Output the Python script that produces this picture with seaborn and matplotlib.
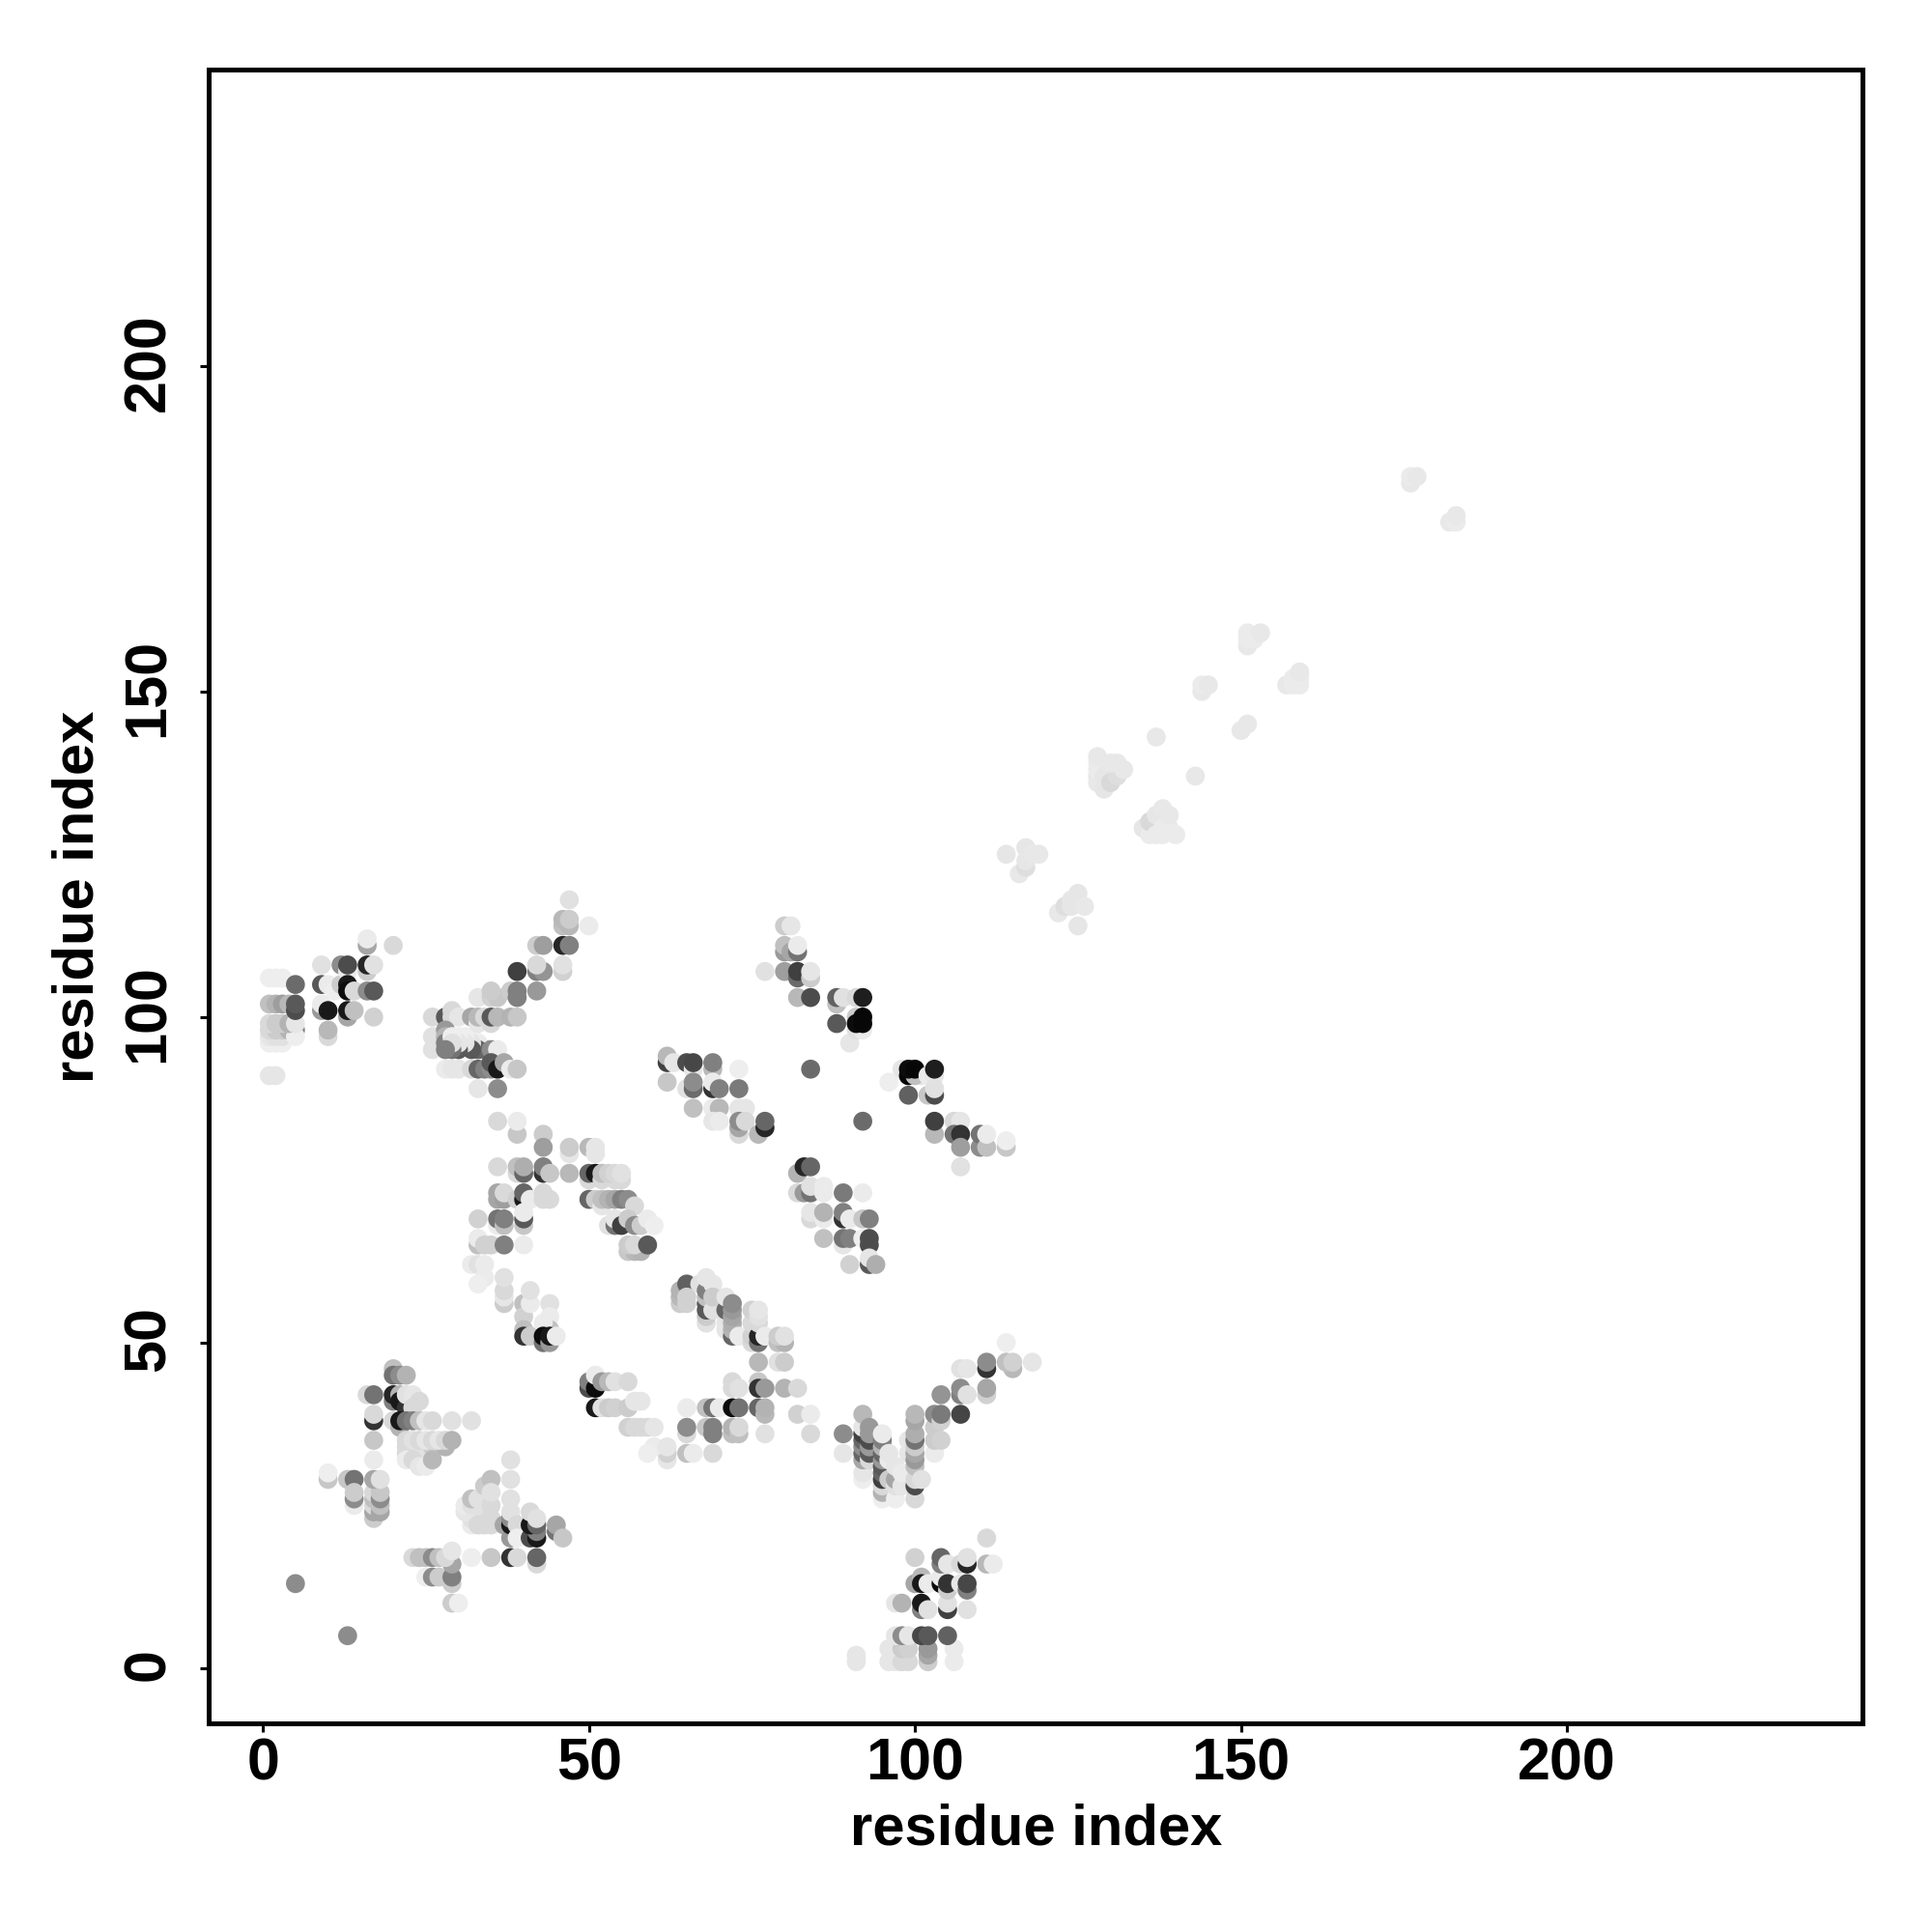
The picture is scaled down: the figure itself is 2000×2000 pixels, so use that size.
import pandas as pd
import seaborn as sns
import matplotlib
matplotlib.use('Agg')
import matplotlib.pyplot as plt
from matplotlib.transforms import ScaledTranslation

# every contact is (residue i, residue j, grey level), later ones sit on top
axis_label = 'residue index'
tick_values = [0, 50, 100, 150, 200]

isolated = [(5, 13, .55), (13, 5, .55), (84, 92, .42), (92, 84, .42)]

low_left = [
    (29, 10, .8), (30, 10, .93), (29, 13, .8), (25, 14, .93), (26, 14, .55), (27, 14, .8), (29, 14, .5),
    (23, 17, .85), (24, 17, .75), (25, 17, .75), (26, 17, .55), (27, 17, .75), (29, 16, .65), (28, 17, .85),
    (29, 18, .9), (32, 17, .93), (35, 17, .78), (42, 16, .85), (38, 17, .2), (39, 17, .85), (42, 17, .4),
    (10, 29, .78), (10, 30, .93), (13, 29, .78), (14, 29, .45), (14, 25, .92), (14, 26, .55), (14, 27, .8),
    (17, 23, .8), (17, 24, .65), (17, 25, .85), (17, 26, .75), (17, 27, .85), (18, 24, .65), (18, 25, .75),
    (18, 26, .55), (18, 27, .78), (17, 29, .65), (18, 29, .88), (17, 32, .92), (17, 35, .78),
]

low_mid = [
    (32, 22, .92), (33, 23, .85), (32, 23, .88), (31, 24, .9), (31, 25, .92), (32, 25, .88), (32, 26, .75),
    (33, 26, .88), (34, 22, .85), (35, 22, .85), (33, 22, .85), (34, 25, .88), (35, 23, .85), (35, 25, .85),
    (34, 28, .8), (35, 29, .75), (35, 27, .88), (37, 22, .65),
    (38, 26, .88), (38, 29, .88), (38, 32, .88), (38, 20, .6), (38, 22, .1), (38, 23, .55), (38, 24, .88),
    (39, 22, .85), (39, 20, .93), (41, 20, .3), (42, 20, .1), (42, 21, .5), (41, 22, .1), (42, 22, .4),
    (41, 24, .85), (42, 23, .88), (45, 21, .45), (45, 22, .65), (46, 20, .78),
]

upper_left_a = [
    (20, 46, .75), (20, 45, .45), (21, 45, .55), (22, 45, .7), (16, 42, .85), (17, 42, .45), (20, 41, .5),
    (20, 42, .15), (21, 42, .7), (21, 41, .1), (22, 40, .2), (22, 42, .88), (23, 42, .9), (23, 40, .85),
    (24, 41, .85), (17, 38, .2), (17, 39, .85), (20, 38, .85), (21, 37, .7), (21, 38, .1), (22, 38, .45),
    (23, 38, .5), (24, 38, .75), (25, 38, .9), (26, 38, .85), (29, 38, .88), (32, 38, .88),
    (22, 33, .85), (23, 33, .88), (24, 33, .88), (25, 33, .88), (26, 33, .88), (22, 34, .85), (26, 34, .8),
    (28, 34, .7), (22, 35, .85), (23, 35, .88), (24, 35, .85), (25, 35, .9), (26, 35, .85), (27, 35, .9),
    (28, 35, .85), (29, 35, .7), (22, 32, .92), (23, 32, .85), (24, 31, .9), (25, 31, .92), (26, 32, .72),
]

band_100_left = [
    (1, 91, .9), (2, 91, .9), (1, 96, .93), (2, 96, .93), (3, 96, .93), (1, 97, .9), (2, 97, .88), (3, 97, .88),
    (1, 98, .85), (2, 98, .8), (3, 98, .8), (4, 98, .7), (5, 98, .5), (5, 97, .93), (1, 99, .85), (2, 99, .8),
    (3, 99, .8), (4, 99, .7), (5, 99, .9), (1, 102, .75), (2, 102, .7), (3, 102, .62), (4, 102, .72),
    (5, 101, .3), (5, 102, .35), (1, 106, .93), (2, 106, .93), (3, 106, .93), (5, 105, .42),
    (9, 108, .88), (9, 105, .35), (10, 105, .92), (11, 104, .93), (12, 105, .8), (9, 101, .6), (9, 102, .92),
    (10, 101, .1), (10, 97, .85), (10, 98, .72), (12, 108, .55), (13, 107, .92), (13, 108, .3), (13, 105, .1),
    (13, 104, .05), (14, 104, .85), (13, 100, .65), (13, 101, .1), (14, 101, .75), (16, 107, .8), (16, 108, .15),
    (17, 108, .88), (16, 111, .65), (16, 112, .92), (20, 111, .85), (16, 104, .55), (17, 104, .35), (17, 100, .82),
]

band_100_right = [
    (26, 95, .88), (26, 97, .88), (26, 100, .85), (28, 92, .92), (28, 100, .35), (29, 101, .85), (29, 100, .85),
    (30, 100, .9), (28, 98, .6), (28, 97, .7), (28, 96, .5),
    (34, 95, .5), (33, 96, .92), (33, 95, .4), (32, 97, .93), (32, 96, .9), (32, 95, .35), (31, 97, .93), (31, 96, .9),
    (30, 95, .35), (30, 97, .93), (30, 96, .9), (29, 97, .93), (29, 95, .45), (29, 96, .88), (28, 95, .5),
    (35, 95, .55), (36, 95, .92),
    (29, 92, .9), (30, 92, .9), (32, 92, .85), (33, 92, .4), (34, 92, .5), (35, 92, .55), (35, 93, .35), (36, 92, .1),
    (37, 93, .65), (38, 92, .92), (39, 92, .78), (33, 89, .9), (36, 89, .55),
    (32, 100, .65), (33, 99, .9), (33, 100, .72), (34, 100, .85), (35, 99, .85), (35, 100, .35), (36, 100, .72),
    (38, 100, .7), (39, 100, .78), (33, 103, .9), (35, 103, .82), (36, 103, .78), (35, 104, .8), (38, 104, .8),
    (39, 103, .5), (39, 104, .5), (42, 104, .6), (39, 107, .25), (42, 107, .5), (43, 107, .58), (42, 108, .85),
    (46, 107, .82), (46, 108, .88), (42, 111, .8), (43, 111, .62), (46, 111, .15), (47, 111, .5),
    (46, 114, .75), (47, 114, .72), (46, 115, .72), (47, 115, .8), (50, 114, .92), (47, 118, .88),
]

arc_60_80 = [
    (36, 84, .85), (39, 82, .78), (39, 84, .92), (43, 82, .8), (43, 80, .62), (47, 79, .9), (47, 80, .8),
    (50, 80, .72), (51, 79, .9), (51, 80, .9), (36, 77, .85), (39, 76, .85), (39, 77, .75), (40, 76, .4),
    (40, 77, .68), (43, 76, .2), (43, 77, .5), (44, 76, .78), (47, 76, .72), (50, 75, .85), (50, 76, .4),
    (51, 76, .1), (52, 75, .85), (54, 75, .85), (55, 75, .85), (52, 76, .75), (53, 76, .82), (54, 76, .85), (55, 76, .88),
    (36, 72, .65), (36, 73, .65), (37, 72, .62), (37, 73, .85), (39, 72, .82), (40, 72, .1), (40, 73, .4),
    (41, 72, .92), (43, 72, .85), (43, 73, .85), (44, 72, .85),
    (50, 72, .4), (51, 72, .8), (52, 71, .9), (52, 72, .75), (53, 72, .7), (54, 72, .65), (55, 72, .5), (56, 72, .55), (57, 71, .85),
    (33, 69, .82), (36, 68, .92), (36, 69, .45), (37, 68, .75), (37, 69, .5), (40, 68, .78), (40, 69, .35), (40, 70, .92),
    (53, 68, .88), (54, 68, .45), (54, 69, .9), (55, 68, .25), (56, 69, .8), (57, 68, .55), (58, 68, .8), (59, 69, .92), (60, 68, .93),
    (33, 65, .75), (33, 66, .92), (34, 65, .82), (35, 65, .82), (37, 65, .5), (40, 65, .92),
    (56, 64, .78), (57, 64, .72), (58, 64, .7), (56, 65, .8), (57, 65, .85), (59, 65, .35),
    (32, 62, .92), (33, 62, .88), (34, 62, .92), (34, 60, .92), (33, 59, .93),
    (37, 56, .8), (37, 57, .9), (37, 58, .85), (37, 60, .88), (40, 56, .75), (40, 54, .82), (40, 52, .75), (40, 51, .2),
    (41, 51, .8), (41, 56, .92), (41, 58, .88), (44, 56, .88), (44, 54, .92), (44, 52, .75), (43, 53, .92),
    (43, 50, .45), (43, 51, .05), (44, 50, .6), (44, 51, .1), (45, 51, .92),
]

diag_60_45 = [
    (64, 56, .8), (64, 57, .72), (64, 58, .7), (65, 59, .38), (65, 56, .82), (65, 57, .82), (67, 59, .88),
    (68, 53, .88), (68, 54, .8), (68, 55, .35), (68, 56, .35), (68, 57, .75), (68, 58, .5), (68, 60, .9), (69, 59, .9), (69, 55, .88), (69, 57, .8),
    (71, 52, .9), (71, 53, .9), (71, 55, .4), (71, 57, .9), (72, 51, .4), (72, 52, .7), (72, 53, .68), (72, 54, .65), (72, 55, .6), (72, 56, .55), (73, 51, .92),
    (75, 50, .85), (75, 51, .82), (75, 53, .85), (75, 55, .82), (76, 50, .45), (76, 51, .15), (76, 53, .85), (76, 54, .88), (76, 55, .9), (77, 51, .92),
    (79, 50, .75), (80, 50, .7), (79, 51, .8), (80, 51, .88), (76, 47, .72), (79, 47, .88), (80, 47, .8),
    (72, 44, .85), (72, 43, .85), (73, 43, .88), (76, 44, .78), (76, 43, .2), (77, 43, .6), (80, 43, .7), (82, 43, .85),
    (65, 40, .92), (68, 40, .75), (69, 40, .45), (70, 40, .92), (72, 40, .05), (73, 40, .45), (76, 40, .4), (77, 39, .72), (77, 40, .7), (82, 39, .82), (84, 39, .92),
    (65, 36, .85), (65, 37, .55), (68, 37, .78), (69, 36, .5), (69, 37, .5), (72, 36, .75), (72, 37, .7), (73, 36, .75), (73, 37, .85), (77, 36, .88), (84, 36, .85),
    (62, 32, .9), (62, 33, .82), (60, 34, .92), (62, 34, .9), (59, 33, .93), (65, 33, .75), (66, 33, .92), (69, 33, .85),
    (58, 37, .85), (59, 37, .85), (60, 37, .9), (58, 41, .9),
    (50, 43, .3), (50, 44, .5), (51, 43, .05), (51, 45, .92), (52, 44, .6), (53, 44, .72), (54, 44, .88), (56, 44, .85),
    (51, 40, .1), (52, 40, .88), (53, 40, .8), (54, 40, .82), (56, 40, .8), (57, 41, .9), (56, 37, .82), (57, 37, .85),
]

v_shape = [
    (89, 33, .9), (89, 36, .55), (92, 29, .93), (92, 30, .9), (92, 32, .65), (92, 33, .4), (92, 34, .55), (92, 35, .4), (92, 36, .25), (92, 37, .9), (92, 39, .72),
    (93, 32, .85), (93, 33, .35), (93, 34, .6), (93, 35, .3), (93, 36, .6), (93, 37, .6),
    (95, 26, .93), (95, 27, .7), (95, 28, .85), (95, 29, .25), (95, 30, .4), (95, 31, .35), (95, 32, .6), (95, 33, .4), (95, 34, .7), (95, 35, .5), (95, 36, .92),
    (96, 29, .8), (96, 32, .92), (96, 33, .9), (97, 26, .93), (97, 28, .88), (97, 29, .65), (97, 31, .9), (98, 28, .9), (98, 30, .92),
    (99, 33, .9), (99, 35, .9), (100, 26, .85), (100, 28, .3), (100, 29, .85), (100, 31, .75), (100, 32, .6), (100, 33, .65), (100, 34, .8), (100, 35, .45), (100, 36, .68), (100, 38, .65), (100, 39, .72), (101, 29, .88),
    (103, 33, .92), (103, 35, .8), (103, 37, .8), (104, 35, .82), (103, 39, .55), (104, 38, .82), (104, 39, .48), (104, 42, .58), (107, 39, .27),
    (107, 42, .5), (107, 43, .55), (108, 42, .88), (107, 46, .88), (108, 46, .9), (111, 42, .82), (111, 43, .65), (111, 46, .2), (111, 47, .55),
    (114, 50, .93), (115, 46, .72), (114, 47, .75), (115, 47, .82), (118, 47, .9),
]

bottom_100 = [
    (91, 1, .9), (91, 2, .9), (96, 1, .9), (97, 1, .9), (98, 1, .85), (99, 1, .85), (96, 3, .9), (98, 3, .8), (99, 3, .82),
    (102, 1, .8), (102, 2, .65), (102, 3, .6), (106, 1, .92), (106, 3, .92), (97, 5, .9), (98, 5, .55), (99, 5, .9), (101, 5, .28), (102, 5, .35), (105, 5, .38),
    (97, 10, .9), (98, 10, .7), (101, 9, .5), (101, 10, .1), (102, 9, .88), (105, 9, .25), (105, 10, .88), (108, 9, .88),
    (100, 13, .65), (101, 14, .72), (101, 13, .1), (102, 13, .92), (104, 13, .05), (104, 14, .92), (105, 12, .8), (105, 13, .2), (107, 13, .9), (108, 12, .5), (108, 13, .28),
    (100, 17, .82), (104, 16, .5), (104, 17, .4), (105, 16, .9), (107, 16, .85), (108, 16, .15), (108, 17, .88), (111, 16, .72), (112, 16, .92), (111, 20, .85),
]

mid_80_100 = [
    (62, 93, .25), (62, 94, .72), (63, 93, .9), (65, 93, .3), (66, 92, .9), (66, 93, .28), (69, 92, .72), (69, 93, .5), (73, 92, .93),
    (62, 90, .78), (65, 89, .88), (66, 89, .42), (66, 90, .55), (69, 89, .2), (69, 90, .92), (70, 89, .5), (73, 89, .48),
    (66, 86, .75), (69, 86, .92), (70, 86, .72), (73, 86, .9), (74, 86, .9), (69, 84, .9), (70, 84, .92),
    (73, 82, .85), (73, 83, .65), (73, 84, .55), (74, 84, .85), (76, 82, .72), (77, 83, .15), (77, 84, .4),
    (80, 114, .8), (81, 114, .9), (80, 110, .6), (80, 111, .75), (81, 110, .65), (82, 110, .45), (82, 111, .92),
    (77, 107, .88), (80, 107, .62), (82, 106, .42), (82, 107, .25), (84, 106, .8), (84, 107, .9), (82, 103, .72), (84, 103, .3),
    (88, 102, .75), (88, 103, .38), (89, 103, .88), (91, 103, .85), (92, 103, .12), (88, 99, .35), (90, 96, .9),
    (91, 98, .88), (92, 98, .92), (91, 100, .8), (91, 99, .05), (92, 100, .03), (92, 99, .03),
    (96, 90, .93), (98, 92, .9), (101, 91, .9), (99, 91, .02), (100, 91, .75), (99, 92, .05), (100, 92, .03), (102, 91, .92), (103, 91, .9), (103, 92, .12),
    (99, 88, .38), (102, 88, .78), (103, 88, .3), (103, 89, .88),
    (103, 82, .72), (103, 84, .25), (106, 84, .85), (107, 84, .9), (106, 82, .45), (107, 82, .2), (107, 80, .62), (107, 77, .88),
    (110, 80, .55), (110, 82, .45), (111, 80, .75), (111, 82, .92), (114, 80, .78), (114, 81, .93),
    (82, 76, .7), (83, 77, .15), (84, 77, .4), (82, 73, .85), (83, 73, .6), (84, 73, .45), (84, 74, .88), (86, 73, .92), (86, 74, .92), (89, 73, .48), (92, 73, .92),
    (84, 69, .85), (84, 70, .9), (86, 69, .92), (86, 70, .7), (89, 69, .2), (89, 70, .5), (90, 69, .92), (92, 69, .78), (93, 69, .5),
    (86, 66, .75), (89, 65, .9), (89, 66, .45), (90, 66, .5), (92, 66, .93), (93, 65, .3), (93, 66, .3),
    (90, 62, .82), (93, 62, .35), (93, 63, .9), (94, 62, .68),
]

pale_diagonal = [
    (114, 125, .9), (116, 122, .91), (117, 123, .87), (117, 124, .9), (117, 126, .9), (118, 125, .91), (119, 125, .91),
    (122, 116, .91), (123, 117, .87), (124, 117, .9), (124, 118, .9), (125, 119, .9), (126, 117, .91), (125, 114, .9),
    (128, 136, .91), (128, 137, .91), (128, 138, .92), (128, 139, .92), (128, 140, .91), (129, 135, .9), (129, 137, .9),
    (130, 136, .85), (131, 137, .87), (130, 139, .91), (131, 139, .91), (132, 138, .91),
    (135, 129, .9), (136, 128, .92), (136, 130, .85), (137, 128, .92), (137, 131, .9), (138, 128, .92), (138, 129, .92),
    (139, 129, .92), (138, 132, .91), (139, 131, .91), (140, 128, .92), (137, 143, .91), (143, 137, .91),
    (144, 150, .91), (144, 151, .92), (145, 151, .91), (150, 144, .91), (151, 145, .91),
    (151, 157, .91), (151, 158, .92), (151, 159, .92), (152, 158, .92), (153, 159, .91),
    (157, 151, .91), (158, 151, .92), (158, 152, .92), (159, 151, .92), (159, 152, .92), (159, 153, .91),
    (176, 182, .91), (176, 183, .92), (177, 183, .91), (182, 176, .91), (183, 176, .92), (183, 177, .91),
]

contacts = (isolated + low_left + low_mid + upper_left_a + band_100_left + band_100_right + arc_60_80
            + diag_60_45 + v_shape + bottom_100 + mid_80_100 + pale_diagonal)
df = pd.DataFrame(contacts, columns=['i', 'j', 'grey'])

sns.set_style('white')
plt.rcParams['font.family'] = ['Liberation Sans', 'DejaVu Sans']
plt.rcParams['font.weight'] = 'bold'

fig = plt.figure(figsize=(10, 10), dpi=200)
ax = fig.add_axes([0.1082, 0.108, 0.8558, 0.856])

sns.scatterplot(data=df, x='i', y='j', hue='grey', palette='gray', hue_norm=(0, 1),
                s=50, linewidth=0, legend=False, ax=ax)

ax.set_xlim(-8.25, 245.3)
ax.set_ylim(-8.46, 245.5)
ax.set_xticks(tick_values)
ax.set_yticks(tick_values)
ax.tick_params(axis='both', length=3.1, width=1.1, color='black', labelcolor='black',
               labelsize=22, bottom=True, left=True)
ax.tick_params(axis='x', pad=2)
ax.tick_params(axis='y', pad=8.9)
plt.setp(ax.get_yticklabels(), rotation=90, va='center')
# rotated digits sit a little low otherwise
up = ScaledTranslation(0, 1.4 / 72, fig.dpi_scale_trans)
for lab in ax.get_yticklabels():
    lab.set_transform(lab.get_transform() + up)
ax.set_xlabel(axis_label, fontsize=21.5, fontweight='bold', labelpad=4, color='black')
ax.set_ylabel(axis_label, fontsize=21.5, fontweight='bold', labelpad=6.5, color='black')
for spine in ax.spines.values():
    spine.set_linewidth(1.8)
    spine.set_color('black')

fig.savefig('out.png', dpi=200, facecolor='white')
